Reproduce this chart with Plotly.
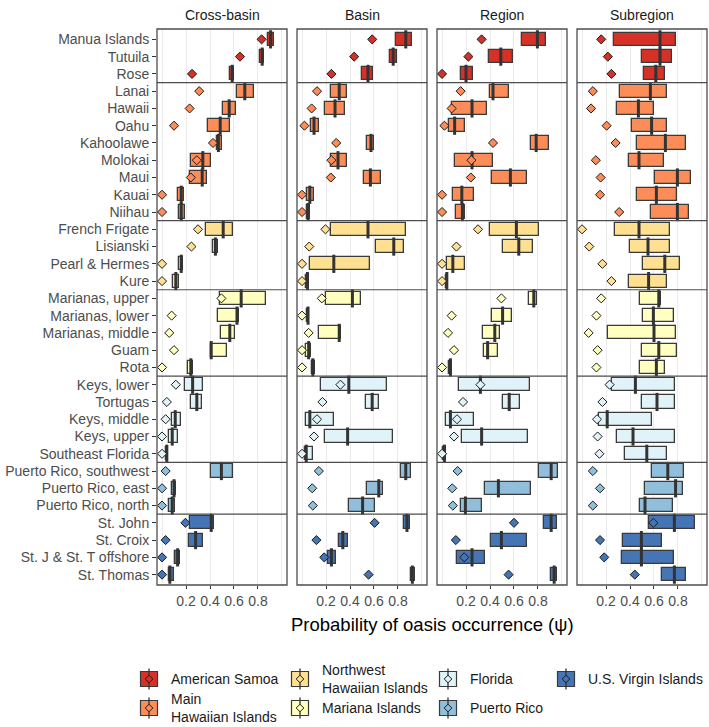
import plotly.graph_objects as go
from plotly.subplots import make_subplots

sites = ["Manua Islands", "Tutuila", "Rose", "Lanai", "Hawaii", "Oahu", "Kahoolawe",
         "Molokai", "Maui", "Kauai", "Niihau", "French Frigate", "Lisianski",
         "Pearl & Hermes", "Kure", "Marianas, upper", "Marianas, lower",
         "Marianas, middle", "Guam", "Rota", "Keys, lower", "Tortugas", "Keys, middle",
         "Keys, upper", "Southeast Florida", "Puerto Rico, southwest", "Puerto Rico, east",
         "Puerto Rico, north", "St. John", "St. Croix", "St. J & St. T offshore", "St. Thomas"]

group_names = ["American Samoa", "Main<br>Hawaiian Islands", "Northwest<br>Hawaiian Islands",
               "Mariana Islands", "Florida", "Puerto Rico", "U.S. Virgin Islands"]
group_sizes = [3, 8, 4, 5, 5, 3, 4]
group_colors = ["#d73027", "#fc8d59", "#fee090", "#ffffbf", "#e0f3f8", "#91bfdb", "#4575b4"]

panel_titles = ["Cross-basin", "Basin", "Region", "Subregion"]
x_tick_vals = [0.2, 0.4, 0.6, 0.8]
x_tick_text = ["0.2", "0.4", "0.6", "0.8"]

# Cross-basin
cb_low = [0.88, 0.82, 0.57, 0.625, 0.505, 0.385, 0.455, 0.245, 0.235, 0.13, 0.14, 0.365, 0.425, 0.145, 0.095,
          0.485, 0.465, 0.495, 0.405, 0.22, 0.195, 0.245, 0.08, 0.06, 0.03, 0.405, 0.08, 0.06, 0.23, 0.225, 0.105, 0.055]
cb_med = [0.905, 0.835, 0.585, 0.69, 0.56, 0.485, 0.47, 0.34, 0.335, 0.16, 0.16, 0.51, 0.445, 0.16, 0.115,
          0.66, 0.625, 0.565, 0.41, 0.24, 0.255, 0.29, 0.11, 0.085, 0.04, 0.495, 0.10, 0.085, 0.41, 0.28, 0.13, 0.065]
cb_high = [0.93, 0.85, 0.60, 0.77, 0.62, 0.57, 0.50, 0.405, 0.375, 0.185, 0.19, 0.595, 0.465, 0.175, 0.14,
           0.865, 0.645, 0.605, 0.545, 0.26, 0.34, 0.33, 0.155, 0.135, 0.05, 0.595, 0.115, 0.105, 0.435, 0.34, 0.15, 0.10]
cb_obs = [0.83, 0.65, 0.25, 0.31, 0.23, 0.10, 0.425, 0.29, 0.24, 0.0, 0.0, 0.30, 0.245, 0.0, 0.0,
          0.495, 0.08, 0.06, 0.10, 0.0, 0.115, 0.04, 0.03, 0.0, 0.0, 0.03, 0.0, 0.0, 0.195, 0.03, 0.0, 0.0]

# Basin
bs_low = [0.785, 0.73, 0.50, 0.24, 0.195, 0.075, 0.54, 0.245, 0.515, 0.04, 0.045, 0.24, 0.615, 0.07, 0.035,
          0.20, 0.04, 0.145, 0.035, 0.08, 0.16, 0.53, 0.03, 0.195, 0.025, 0.825, 0.54, 0.395, 0.85, 0.31, 0.22, 0.905]
bs_med = [0.865, 0.76, 0.55, 0.31, 0.275, 0.10, 0.575, 0.30, 0.57, 0.065, 0.05, 0.55, 0.765, 0.265, 0.045,
          0.42, 0.05, 0.31, 0.055, 0.09, 0.39, 0.585, 0.065, 0.38, 0.035, 0.865, 0.64, 0.505, 0.875, 0.34, 0.245, 0.92]
bs_high = [0.92, 0.795, 0.595, 0.375, 0.36, 0.14, 0.60, 0.375, 0.655, 0.10, 0.065, 0.87, 0.85, 0.565, 0.06,
           0.495, 0.06, 0.325, 0.075, 0.105, 0.71, 0.64, 0.27, 0.755, 0.095, 0.905, 0.675, 0.61, 0.90, 0.38, 0.285, 0.94]
bs_obs = [0.585, 0.435, 0.245, 0.125, 0.08, 0.02, 0.285, 0.245, 0.24, 0.0, 0.0, 0.195, 0.06, 0.0, 0.0,
          0.165, 0.0, 0.055, 0.0, 0.0, 0.32, 0.17, 0.125, 0.10, 0.0, 0.14, 0.085, 0.09, 0.605, 0.12, 0.185, 0.555]

# Region
rg_low = [0.665, 0.39, 0.155, 0.40, 0.08, 0.06, 0.745, 0.105, 0.42, 0.095, 0.12, 0.40, 0.505, 0.04, 0.03,
          0.725, 0.415, 0.34, 0.35, 0.06, 0.14, 0.505, 0.035, 0.17, 0.005, 0.81, 0.355, 0.155, 0.85, 0.41, 0.125, 0.91]
rg_med = [0.795, 0.49, 0.20, 0.425, 0.25, 0.105, 0.785, 0.25, 0.57, 0.165, 0.17, 0.62, 0.64, 0.09, 0.04,
          0.765, 0.505, 0.44, 0.38, 0.07, 0.32, 0.56, 0.07, 0.33, 0.02, 0.91, 0.47, 0.195, 0.91, 0.495, 0.25, 0.935]
rg_high = [0.865, 0.59, 0.255, 0.555, 0.375, 0.195, 0.89, 0.425, 0.705, 0.27, 0.195, 0.805, 0.755, 0.19, 0.05,
           0.795, 0.585, 0.48, 0.47, 0.08, 0.735, 0.65, 0.265, 0.715, 0.03, 0.97, 0.745, 0.335, 0.96, 0.71, 0.36, 0.96]
rg_obs = [0.33, 0.22, 0.0, 0.155, 0.08, 0.02, 0.425, 0.245, 0.24, 0.0, 0.0, 0.30, 0.12, 0.0, 0.0,
          0.495, 0.08, 0.05, 0.10, 0.0, 0.32, 0.175, 0.125, 0.10, 0.0, 0.13, 0.085, 0.09, 0.60, 0.115, 0.185, 0.555]

# Subregion
sr_low = [0.265, 0.50, 0.52, 0.32, 0.295, 0.415, 0.46, 0.39, 0.61, 0.46, 0.575, 0.275, 0.40, 0.505, 0.39,
          0.485, 0.505, 0.22, 0.50, 0.485, 0.25, 0.50, 0.14, 0.29, 0.355, 0.58, 0.525, 0.485, 0.555, 0.345, 0.33, 0.665]
sr_med = [0.65, 0.65, 0.615, 0.57, 0.47, 0.58, 0.695, 0.475, 0.795, 0.62, 0.795, 0.475, 0.55, 0.69, 0.555,
          0.64, 0.595, 0.60, 0.64, 0.62, 0.445, 0.625, 0.21, 0.425, 0.54, 0.715, 0.78, 0.525, 0.77, 0.495, 0.495, 0.77]
sr_high = [0.78, 0.75, 0.69, 0.71, 0.60, 0.71, 0.865, 0.685, 0.91, 0.795, 0.89, 0.73, 0.735, 0.82, 0.71,
           0.655, 0.77, 0.78, 0.795, 0.695, 0.775, 0.775, 0.58, 0.775, 0.71, 0.85, 0.84, 0.755, 0.94, 0.67, 0.765, 0.865]
sr_obs = [0.16, 0.215, 0.245, 0.09, 0.075, 0.205, 0.28, 0.115, 0.155, 0.15, 0.31, 0.0, 0.06, 0.17, 0.245,
          0.16, 0.12, 0.055, 0.13, 0.12, 0.23, 0.17, 0.125, 0.13, 0.145, 0.09, 0.15, 0.09, 0.595, 0.15, 0.185, 0.44]

panels = [(cb_low, cb_med, cb_high, cb_obs), (bs_low, bs_med, bs_high, bs_obs),
          (rg_low, rg_med, rg_high, rg_obs), (sr_low, sr_med, sr_high, sr_obs)]

# derived
site_group = []
for gi, n in enumerate(group_sizes):
    site_group += [gi] * n
site_colors = [group_colors[g] for g in site_group]
ypos = list(range(1, len(sites) + 1))
boundaries = []
c = 0
for n in group_sizes[:-1]:
    c += n
    boundaries.append(c + 0.5)

W, H = 709, 727
ML, MR, MT, MB = 157, 2, 29, 142
PW = W - ML - MR
PH = H - MT - MB

FONT = "Liberation Sans, Arial, Helvetica, sans-serif"
BORDER = "#4d4d4d"
FS = 14

fig = make_subplots(rows=1, cols=4, shared_yaxes=True, horizontal_spacing=10 / PW)

for k, (lo, md, hi, ob) in enumerate(panels, start=1):
    fig.add_trace(go.Bar(
        orientation="h", y=ypos, x=[h - l for l, h in zip(lo, hi)], base=lo, width=0.76,
        marker=dict(color=site_colors, line=dict(color="#3a3a3a", width=1.3)),
        showlegend=False, hoverinfo="skip"), row=1, col=k)
    fig.add_trace(go.Scatter(
        x=md, y=ypos, mode="markers",
        marker=dict(symbol="line-ns", size=13, line=dict(color="#333333", width=3)),
        showlegend=False, hoverinfo="skip"), row=1, col=k)
    fig.add_trace(go.Scatter(
        x=ob, y=ypos, mode="markers",
        marker=dict(symbol="diamond", size=7, color=site_colors, line=dict(color="#1a1a1a", width=1)),
        showlegend=False, hoverinfo="skip", cliponaxis=False), row=1, col=k)

    xa = "xaxis" if k == 1 else f"xaxis{k}"
    fig.layout[xa].update(
        range=[-0.042, 1.042], tickvals=x_tick_vals, ticktext=x_tick_text,
        ticks="outside", ticklen=3, tickcolor="#333333",
        tickfont=dict(size=FS, color="#4d4d4d", family=FONT),
        showgrid=True, gridcolor="#ebebeb", gridwidth=1, zeroline=False,
        minor=dict(tickvals=[0.0, 1.0], showgrid=True, gridcolor="#ebebeb", ticks=""),
        showline=False)
    ya = "yaxis" if k == 1 else f"yaxis{k}"
    fig.layout[ya].update(range=[len(sites) + 0.6, 0.4], showgrid=False, zeroline=False,
                          tickvals=ypos, ticktext=sites if k == 1 else None,
                          showticklabels=(k == 1),
                          ticks="outside" if k == 1 else "", ticklen=4, tickcolor="#333333",
                          tickfont=dict(size=FS, color="#4d4d4d", family=FONT))

    xref_d = "x domain" if k == 1 else f"x{k} domain"
    yref_d = "y domain" if k == 1 else f"y{k} domain"
    yref = "y" if k == 1 else f"y{k}"
    for b in boundaries:
        fig.add_shape(type="line", xref=xref_d, yref=yref, x0=0, x1=1, y0=b, y1=b,
                      line=dict(color=BORDER, width=1.2), layer="above")
    fig.add_shape(type="rect", xref=xref_d, yref=yref_d, x0=0, x1=1, y0=0, y1=1,
                  line=dict(color=BORDER, width=1.3), layer="above")
    fig.add_annotation(text=panel_titles[k - 1], xref=xref_d, x=0.5, yref="paper", y=1,
                       yanchor="bottom", yshift=4, showarrow=False,
                       font=dict(size=FS, color="#1a1a1a", family=FONT))


def px2x(px):
    return (px - ML) / PW


def py2y(py):
    return (MT + PH - py) / PH


# x-axis title
fig.add_annotation(text="Probability of oasis occurrence (ψ)", xref="paper", x=px2x(432),
                   yref="paper", y=py2y(624), xanchor="center", yanchor="middle", showarrow=False,
                   font=dict(size=18.5, color="#000000", family=FONT))

# legend (column-major, 2 rows)
key_cx = [149, 300, 448, 566]
row_cy = [679, 708]
for gi, name in enumerate(group_names):
    col, row = gi // 2, gi % 2
    cx, cy = key_cx[col], row_cy[row]
    fig.add_shape(type="rect", xref="paper", yref="paper",
                  x0=px2x(cx - 8.5), x1=px2x(cx + 8.5), y0=py2y(cy + 7.5), y1=py2y(cy - 7.5),
                  fillcolor=group_colors[gi], line=dict(color="#3a3a3a", width=1.2))
    fig.add_shape(type="line", xref="paper", yref="paper",
                  x0=px2x(cx), x1=px2x(cx), y0=py2y(cy + 10.5), y1=py2y(cy - 10.5),
                  line=dict(color="#333333", width=1.3))
    d = 3.8
    path = (f"M {px2x(cx - d)},{py2y(cy)} L {px2x(cx)},{py2y(cy - d)} "
            f"L {px2x(cx + d)},{py2y(cy)} L {px2x(cx)},{py2y(cy + d)} Z")
    fig.add_shape(type="path", xref="paper", yref="paper", path=path,
                  fillcolor=group_colors[gi], line=dict(color="#1a1a1a", width=1))
    fig.add_annotation(text=name, xref="paper", x=px2x(cx + 19.5), yref="paper", y=py2y(cy),
                       xanchor="left", yanchor="middle", align="left", showarrow=False,
                       font=dict(size=FS, color="#1a1a1a", family=FONT))

fig.update_layout(
    width=W, height=H, margin=dict(l=ML, r=MR, t=MT, b=MB),
    paper_bgcolor="white", plot_bgcolor="white", showlegend=False,
    font=dict(family=FONT), bargap=0)

fig.write_html("out.html", config={"displayModeBar": False},
               post_script="document.body.style.margin='0px';")
